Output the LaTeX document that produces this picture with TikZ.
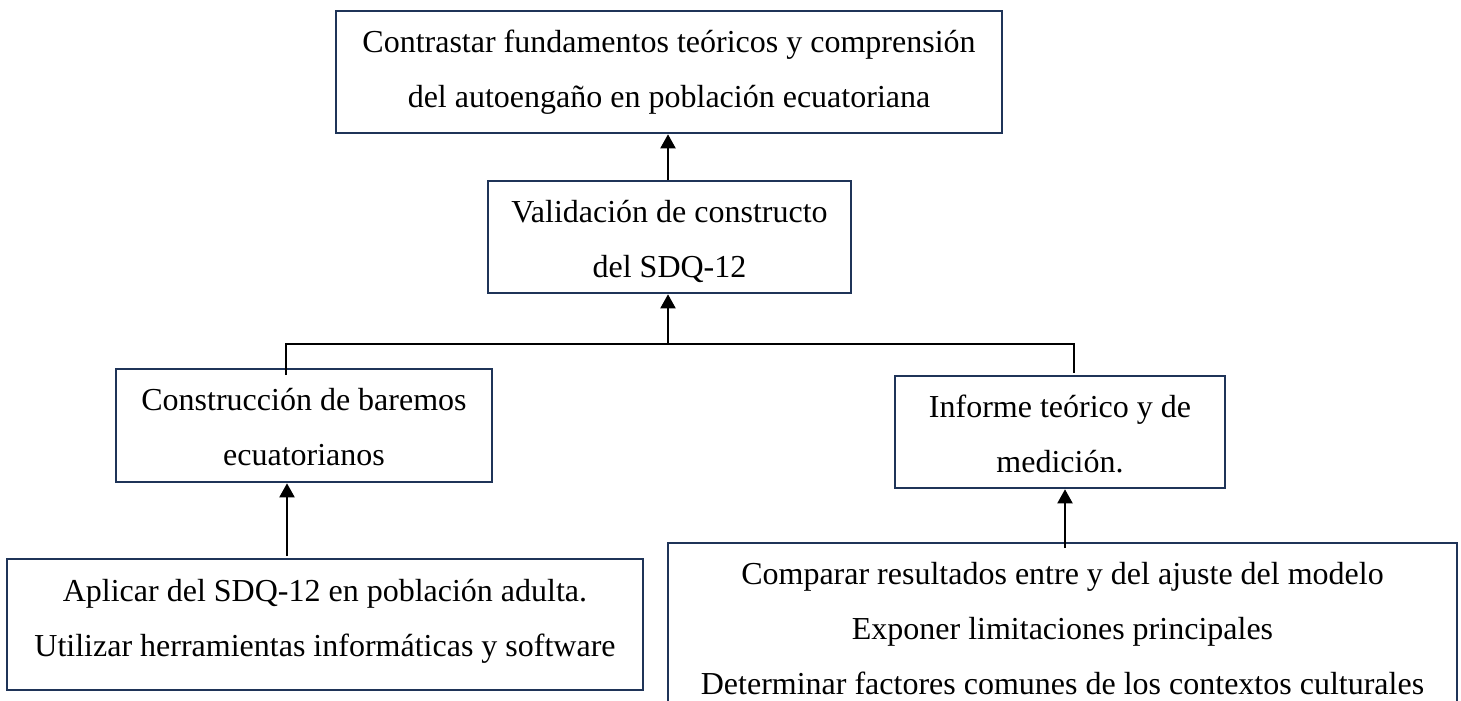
\documentclass[tikz,border=0pt]{standalone}
\usepackage{fontspec}
\setmainfont{Liberation Serif}
\usetikzlibrary{arrows.meta}
\definecolor{boxnavy}{HTML}{1F3458}
\newcommand{\boxtext}[2]{\raisebox{#1}[\height][\depth]{\begin{tabular}{@{}c@{}}#2\end{tabular}}}
\tikzset{
  box/.style={draw=boxnavy, line width=2.6pt, rectangle, align=center, inner sep=0pt,
              font=\fontsize{32}{55}\selectfont},
  arr/.style={draw=black, line width=2pt, -{Triangle[width=15pt,length=14pt]}},
  link/.style={draw=black, line width=2.4pt}
}
\begin{document}
\begin{tikzpicture}[x=1pt,y=-1pt]
\useasboundingbox (0,0) rectangle (1461,701);
\clip (0,0) rectangle (1461,701);
\fill[white] (0,0) rectangle (1461,701);
\node[box, minimum width=666pt, minimum height=122pt] (top) at (669,72)
  {\boxtext{3pt}{Contrastar fundamentos teóricos y comprensión\\del autoengaño en población ecuatoriana}};
\node[box, minimum width=363pt, minimum height=112pt] (mid) at (669.5,237)
  {\boxtext{-2pt}{Validación de constructo\\del SDQ-12}};
\node[box, minimum width=376pt, minimum height=113pt] (lb) at (304,425.5)
  {\boxtext{-1pt}{Construcción de baremos\\ecuatorianos}};
\node[box, minimum width=330pt, minimum height=112pt] (rb) at (1060,432)
  {\boxtext{-1.5pt}{Informe teórico y de\\medición.}};
\node[box, minimum width=636pt, minimum height=131pt] (bl) at (325,624.5)
  {\boxtext{7pt}{Aplicar del SDQ-12 en población adulta.\\Utilizar herramientas informáticas y software}};
\node[box, minimum width=789pt, minimum height=175pt] (br) at (1062.5,630.5)
  {\boxtext{2.5pt}{Comparar resultados entre y del ajuste del modelo\\Exponer limitaciones principales\\Determinar factores comunes de los contextos culturales}};
\coordinate (j) at (668,344);
\coordinate (cl) at (286,375);
\coordinate (cr) at (1074,373);
\coordinate (a1) at (287,556);
\coordinate (a2) at (1065,548);
\draw[link] (cl) |- (j) -| (cr);
\draw[arr] (j) -- (j |- mid.south);
\draw[arr] (j |- mid.north) -- (j |- top.south);
\draw[arr] (a1) -- (a1 |- lb.south);
\draw[arr] (a2) -- (a2 |- rb.south);
\end{tikzpicture}
\end{document}
